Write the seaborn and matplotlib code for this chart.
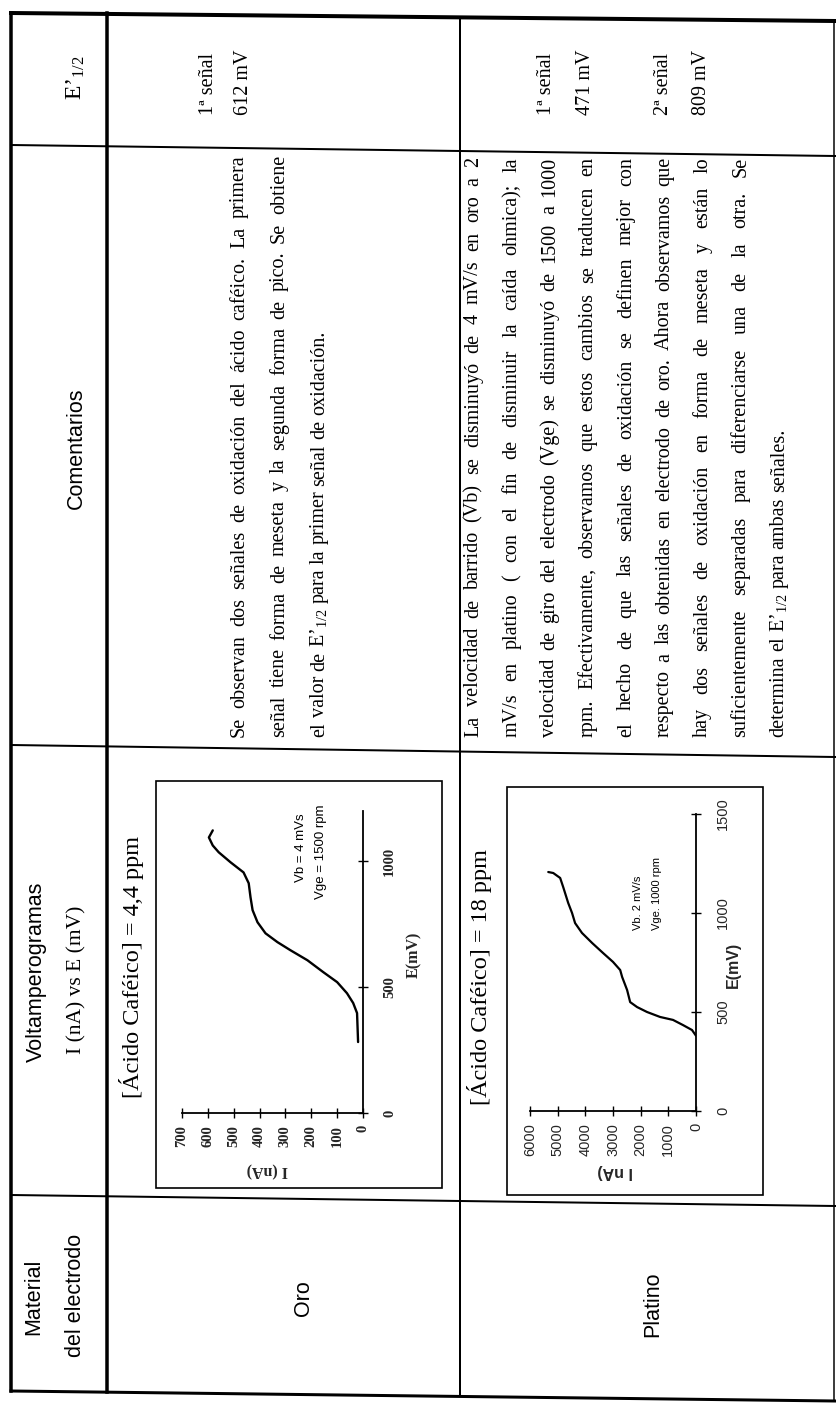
import matplotlib
matplotlib.use("Agg")
import matplotlib.pyplot as plt
import seaborn as sns
import pandas as pd
from matplotlib.lines import Line2D
from matplotlib.patches import Rectangle

# ---------------- data ----------------
oro_E = [282, 397, 437, 476, 520, 560, 607, 647, 679, 714, 758, 806, 857, 913, 956, 996, 1036, 1063, 1095, 1123]
oro_I = [19, 23, 38, 62, 100, 154, 215, 281, 331, 377, 408, 427, 435, 442, 462, 512, 558, 581, 596, 581]
pt_E = [380, 409, 434, 460, 475, 500, 525, 550, 611, 677, 712, 753, 798, 848, 899, 949, 1000, 1051, 1131, 1177, 1202, 1207]
pt_I = [0, 144, 470, 830, 1300, 1770, 2130, 2380, 2490, 2670, 2740, 3000, 3360, 3750, 4120, 4370, 4480, 4620, 4800, 4910, 5160, 5340]

oro_I_ticks = [0, 100, 200, 300, 400, 500, 600, 700]
oro_E_ticks = [0, 500, 1000]
pt_I_ticks = [0, 1000, 2000, 3000, 4000, 5000, 6000]
pt_E_ticks = [0, 500, 1000, 1500]

headers = ["Material", "del electrodo", "Voltamperogramas", "I (nA) vs E (mV)", "Comentarios", "E’$_{1/2}$"]
materials = ["Oro", "Platino"]
titles = ["[Ácido Caféico] = 4,4 ppm", "[Ácido Caféico] = 18 ppm"]
oro_cond = ["Vb = 4 mVs", "Vge = 1500 rpm"]
pt_cond = ["Vb. 2 mV/s", "Vge. 1000 rpm"]
oro_e12 = ["1ª señal", "612 mV"]
pt_e12 = ["1ª señal", "471 mV", "2ª señal", "809 mV"]

oro_text = [
    "Se observan dos señales de oxidación del ácido caféico. La primera",
    "señal tiene forma de meseta y la segunda forma de pico. Se obtiene",
    "el valor de E’$_{1/2}$ para la primer señal de oxidación.",
]
pt_text = [
    "La velocidad de barrido (Vb) se disminuyó de 4 mV/s en oro a 2",
    "mV/s en platino ( con el fin de disminuir la caída ohmica); la",
    "velocidad de giro del electrodo (Vge) se disminuyó de 1500 a 1000",
    "rpm. Efectivamente, observamos que estos cambios se traducen en",
    "el hecho de que las señales de oxidación se definen mejor con",
    "respecto a las obtenidas en electrodo de oro. Ahora observamos que",
    "hay dos señales de oxidación en forma de meseta y están lo",
    "suficientemente separadas para diferenciarse una de la otra. Se",
    "determina el E’$_{1/2}$ para ambas señales.",
]

# ---------------- setup ----------------
sns.set_theme(style="white")
SERIF = ["Liberation Serif", "DejaVu Serif"]
SANS = ["Liberation Sans", "DejaVu Sans"]
plt.rcParams["font.family"] = SERIF
plt.rcParams["mathtext.fontset"] = "custom"
plt.rcParams["mathtext.rm"] = "Liberation Serif"
plt.rcParams["mathtext.it"] = "Liberation Serif:italic"
plt.rcParams["mathtext.bf"] = "Liberation Serif:bold"
plt.rcParams["mathtext.default"] = "regular"

W, H, DPI = 837, 1406, 100
fig = plt.figure(figsize=(W / DPI, H / DPI), dpi=DPI)
fig.patch.set_facecolor("white")


def fx(px):
    return px / W


def fy(py):
    return 1 - py / H


def seg(x0, y0, x1, y1, lw):
    fig.add_artist(Line2D([fx(x0), fx(x1)], [fy(y0), fy(y1)], transform=fig.transFigure,
                          color="black", lw=lw * 0.72, solid_capstyle="projecting"))


def vtext(x, y, s, size, family=SERIF, ha="center", weight="normal"):
    em = size * DPI / 72
    return fig.text(fx(x + 0.3 * em), fy(y), s, rotation=90, rotation_mode="anchor",
                    ha=ha, va="baseline", fontsize=size, family=family, weight=weight,
                    color="black")


# ---------------- table lines ----------------
seg(11, 13, 835, 21, 4)       # top
seg(11, 13, 11, 1391, 3.5)    # left
seg(11, 1391, 835, 1401, 3)   # bottom
seg(834, 21, 834, 1401, 1.5)  # right
seg(107, 13, 107, 1392, 3.5)  # header divider
seg(460, 17, 460, 1396, 2)    # Oro / Platino
seg(11, 145, 835, 156, 2)     # E'1/2 / Comentarios
seg(11, 745, 835, 757, 2)     # Comentarios / Voltamperogramas
seg(11, 1195, 835, 1206, 2)   # Voltamperogramas / Material

# ---------------- header texts ----------------
HS = 15.5
vtext(33, 1297, headers[0], HS, SANS)
vtext(75, 1295, headers[1], HS, SANS)
vtext(35, 972, headers[2], HS, SANS)
vtext(75, 980, headers[3], HS, SERIF)
vtext(75, 448, headers[4], HS, SANS)
vtext(75, 78, headers[5], 17, SERIF)

vtext(303, 1298, materials[0], HS, SANS)
vtext(652, 1304, materials[1], HS, SANS)

# E'1/2 values
ES = 14.5
vtext(207, 115, oro_e12[0], ES, SERIF, ha="left")
vtext(242, 115, oro_e12[1], ES, SERIF, ha="left")
for xv, s in zip([545, 584, 662, 700], pt_e12):
    vtext(xv, 115, s, ES, SERIF, ha="left")

# ---------------- justified comment paragraphs ----------------
renderer = fig.canvas.get_renderer()
BS = 14.5


def para_line(xc, y0, y1, text, size, justify):
    em = size * DPI / 72
    words = text.split()
    objs = [fig.text(0, 0, w, rotation=90, rotation_mode="anchor", ha="left", va="baseline",
                     fontsize=size, family=SERIF, color="black") for w in words]
    lens = [o.get_window_extent(renderer).height for o in objs]
    if justify and len(words) > 1:
        gap = ((y0 - y1) - sum(lens)) / (len(words) - 1)
    else:
        gap = 0.25 * em
    pos = y0
    xb = xc + 0.3 * em
    for o, ln in zip(objs, lens):
        o.set_position((fx(xb), fy(pos)))
        pos -= ln + gap


for i, line in enumerate(oro_text):
    para_line(238 + 40 * i, 737, 155, line, BS, i < len(oro_text) - 1)
for i, line in enumerate(pt_text):
    para_line(472 + 38.2 * i, 737, 157, line, BS, i < len(pt_text) - 1)

# ---------------- plot frames ----------------
fig.add_artist(Rectangle((fx(156), fy(1188)), (442 - 156) / W, (1188 - 781) / H,
                         transform=fig.transFigure, fill=False, ec="black", lw=1.2))
fig.add_artist(Rectangle((fx(507), fy(1195)), (763 - 507) / W, (1195 - 787) / H,
                         transform=fig.transFigure, fill=False, ec="black", lw=1.2))

# titles of plots
vtext(132, 967, titles[0], 17.5, SERIF)
vtext(480, 977, titles[1], 17.5, SERIF)


def style_axes(ax, xt, yt, xlim, ylim, fam, weight, ypad, fs):
    ax.set_facecolor("none")
    ax.set_xlim(*xlim)
    ax.set_ylim(*ylim)
    for s in ["top", "left"]:
        ax.spines[s].set_visible(False)
    for s in ["bottom", "right"]:
        ax.spines[s].set_visible(True)
        ax.spines[s].set_color("black")
        ax.spines[s].set_linewidth(1.3)
    ax.yaxis.tick_right()
    ax.set_xticks(xt, labels=[str(v) for v in xt], fontsize=fs, family=fam, weight=weight, rotation=90)
    ax.set_yticks(yt, labels=[str(v) for v in yt], fontsize=fs, family=fam, weight=weight, rotation=90,
                  va="center")
    ax.tick_params(axis="both", direction="inout", length=7, width=1, color="black",
                   bottom=True, right=True, left=False, top=False,
                   labelbottom=True, labelright=True, labelleft=False)
    ax.tick_params(axis="x", pad=5)
    ax.tick_params(axis="y", pad=ypad)
    ax.grid(False)


# ---------------- plot 1 (Oro) ----------------
ax1 = fig.add_axes([fx(182), fy(1113), (363 - 182) / W, (1113 - 811) / H])
df1 = pd.DataFrame({"I": oro_I, "E": oro_E})
sns.lineplot(data=df1, x="I", y="E", sort=False, estimator=None, color="black", lw=1.7, ax=ax1)
style_axes(ax1, oro_I_ticks, oro_E_ticks, (700, 0), (0, 1200), SERIF, "bold", 11, 10.5)
ax1.set_xlabel("I (nA)", rotation=180, fontsize=11.5, weight="bold", family=SERIF, ha="center", va="center")
ax1.xaxis.set_label_coords(0.47, -0.189)
ax1.yaxis.set_label_position("right")
ax1.set_ylabel("E(mV)", rotation=90, fontsize=11.5, weight="bold", family=SERIF, ha="center", va="center")
ax1.yaxis.set_label_coords(1.282, 0.523)
vtext(300, 848, oro_cond[0], 9.5, SANS)
vtext(320, 852, oro_cond[1], 9.5, SANS)

# ---------------- plot 2 (Platino) ----------------
ax2 = fig.add_axes([fx(530), fy(1111), (696 - 530) / W, (1111 - 814) / H])
df2 = pd.DataFrame({"I": pt_I, "E": pt_E})
sns.lineplot(data=df2, x="I", y="E", sort=False, estimator=None, color="black", lw=1.6, ax=ax2)
style_axes(ax2, pt_I_ticks, pt_E_ticks, (6000, 0), (0, 1500), SANS, "normal", 11, 10.5)
ax2.set_xlabel("I nA)", rotation=180, fontsize=11.5, weight="bold", family=SANS, ha="center", va="center")
ax2.xaxis.set_label_coords(0.512, -0.205)
ax2.yaxis.set_label_position("right")
ax2.set_ylabel("E(mV)", rotation=90, fontsize=11.5, weight="bold", family=SANS, ha="center", va="center")
ax2.yaxis.set_label_coords(1.223, 0.492)
vtext(638, 930, pt_cond[0], 8, SANS, ha="left")
vtext(657, 930, pt_cond[1], 8, SANS, ha="left")

fig.savefig("out.png", dpi=DPI, facecolor="white")
